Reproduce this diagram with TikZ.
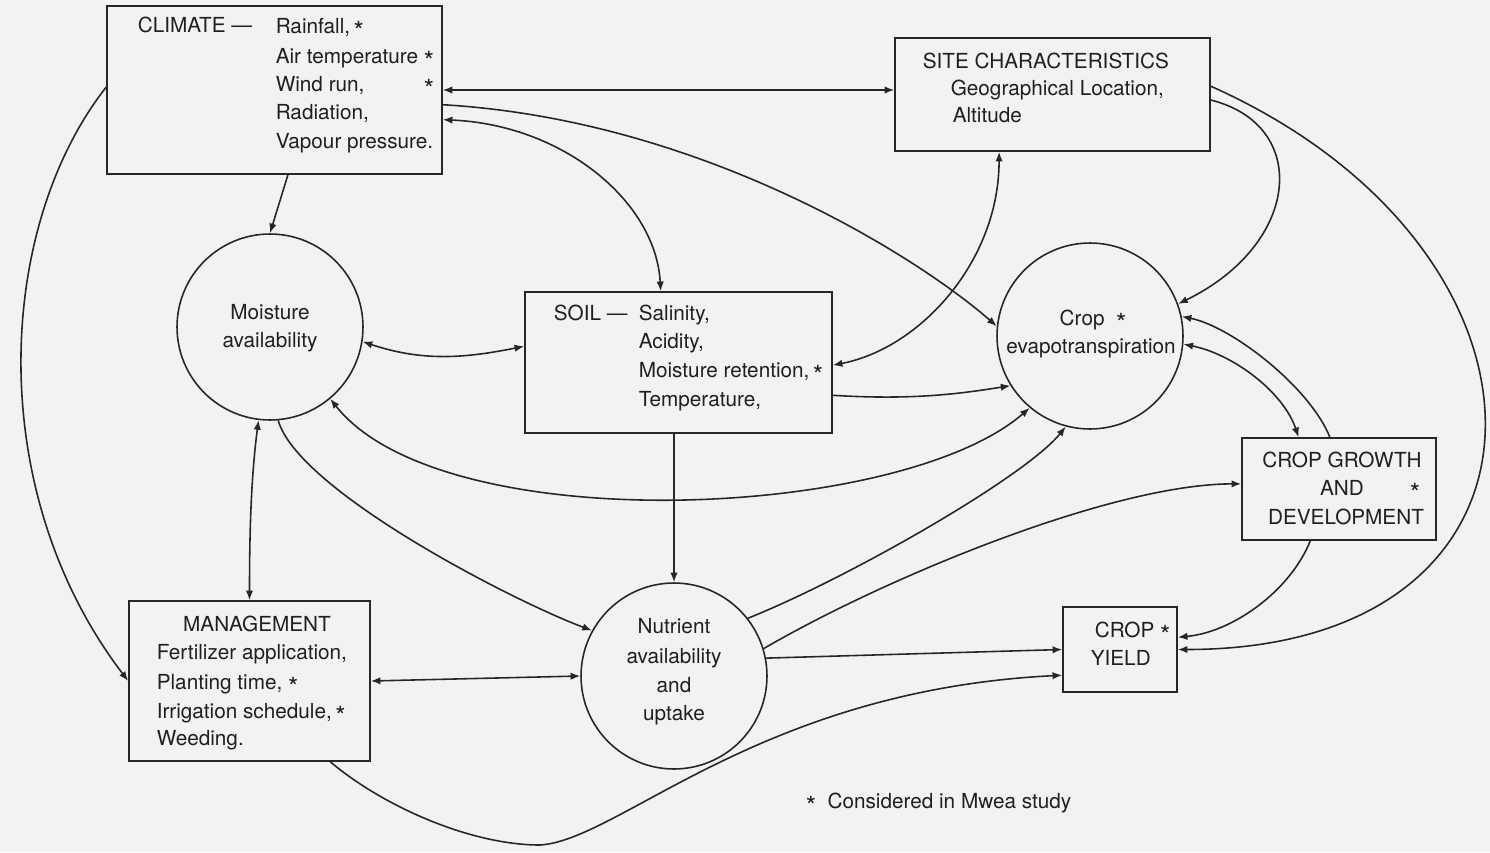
\documentclass[tikz,border=0pt]{standalone}
\usepackage{fontspec}
\setmainfont{TeX Gyre Heros}
\usetikzlibrary{arrows.meta}
\newcommand\mystar{{\fontsize{15}{15}\selectfont\raisebox{-0.55ex}{*}}}
\begin{document}
\begin{tikzpicture}[x=0.02cm,y=-0.02cm,
  line width=0.9pt, draw=black!85,
  >={Latex[length=5.5pt,width=4.2pt]},
  box/.style={draw=black!85, line width=0.9pt, rectangle, inner sep=0pt},
  circ/.style={draw=black!85, line width=0.9pt, circle, inner sep=0pt, minimum size=3.72cm},
  txt/.style={inner sep=0pt, anchor=base west, text=black!88, font=\fontsize{11.8}{14}\selectfont},
  ctxt/.style={inner sep=0pt, anchor=base, text=black!88, font=\fontsize{11.8}{14}\selectfont},
  conn/.style={draw=black!85, line width=0.9pt}]
\fill[black!5] (0,0) rectangle (1490,852);
\useasboundingbox (0,0) rectangle (1490,852);

% boxes and circles
\node[box, minimum width=6.70cm, minimum height=3.36cm] (clim) at (274.5,90) {};
\node[box, minimum width=6.30cm, minimum height=2.26cm] (site) at (1052.5,94.5) {};
\node[box, minimum width=6.14cm, minimum height=2.82cm] (soil) at (678.5,362.5) {};
\node[box, minimum width=4.82cm, minimum height=3.20cm] (mgmt) at (249.5,681) {};
\node[box, minimum width=3.88cm, minimum height=2.04cm] (cg) at (1339,489) {};
\node[box, minimum width=2.28cm, minimum height=1.70cm] (yield) at (1120,649.5) {};
\node[circ] (moist) at (270,327) {};
\node[circ] (et) at (1090,336) {};
\node[circ] (nut) at (674,676) {};

% texts: climate
\node[txt] (climT) at (137,32) {CLIMATE ---};
\node[txt] (climA) at (275,33) {Rainfall,\,\mystar};
\node[txt] (climB) at (275,63) {Air temperature \mystar};
\node[txt] (climC) at (275,91) {Wind run,};
\node[txt] (climCs) at (423,91) {\mystar};
\node[txt] (climD) at (275,119) {Radiation,};
\node[txt] (climE) at (275,148) {Vapour pressure.};
% site
\node[txt] (siteT) at (922,68) {SITE CHARACTERISTICS};
\node[txt] (siteA) at (950,95) {Geographical Location,};
\node[txt] (siteB) at (952,122) {Altitude};
% soil
\node[txt] (soilT) at (553,320) {SOIL ---};
\node[txt] (soilA) at (638,320) {Salinity,};
\node[txt] (soilB) at (638,348) {Acidity,};
\node[txt] (soilC) at (638,377) {Moisture retention,\,\mystar};
\node[txt] (soilD) at (638,406) {Temperature,};
% moisture
\node[ctxt] (moistA) at (270,319) {Moisture};
\node[ctxt] (moistB) at (270,347) {availability};
% ET
\node[ctxt] (etA) at (1093,325) {Crop \ \mystar};
\node[ctxt] (etB) at (1091,353) {evapotranspiration};
% nutrient
\node[ctxt] (nutA) at (674,633) {Nutrient};
\node[ctxt] (nutB) at (674,663) {availability};
\node[ctxt] (nutC) at (674,692) {and};
\node[ctxt] (nutD) at (674,720) {uptake};
% management
\node[ctxt] (mgmtT) at (257,631) {MANAGEMENT};
\node[txt] (mgmtA) at (156,659) {Fertilizer application,};
\node[txt] (mgmtB) at (156,689) {Planting time, \mystar};
\node[txt] (mgmtC) at (156,718) {Irrigation schedule,\,\mystar};
\node[txt] (mgmtD) at (156,745) {Weeding.};
% crop growth
\node[ctxt] (cgA) at (1342,467) {CROP GROWTH};
\node[ctxt] (cgB) at (1342,495) {AND};
\node[ctxt] (cgBs) at (1415,495) {\mystar};
\node[ctxt] (cgC) at (1346,524) {DEVELOPMENT};
% yield
\node[txt] (yA) at (1094,637) {CROP \mystar};
\node[txt] (yB) at (1090,665) {YIELD};
% footnote
\node[txt] (foot) at (805,808) {\mystar\ \ Considered in Mwea study};

% connectors
\draw[conn,<->] (clim.east) -- (clim.east -| site.west);
\draw[conn,->] (clim.-5) .. controls +(258,15) and +(-80,-70) .. (et.174);
\draw[conn,<->] (clim.-10.2) .. controls +(120,5) and +(-5,-90) .. (soil.104.7);
\draw[conn,->] (clim.-81.5) -- (moist.north);
\draw[conn,->] (clim.179.3) .. controls +(-110,140) and +(-145,-190) .. (mgmt.west);
\draw[conn,<->] (moist.-9.8) .. controls +(60,20) and +(-60,12) .. (soil.174.6);
\draw[conn,<->] (site.-133) .. controls +(0,109) and +(88,-17) .. (soil.-1.7);
\draw[conn,->] (site.-2) .. controls +(100,25) and +(123,-60) .. (et.20.3);
\draw[conn,->] (site.3.5) .. controls +(370,165) and +(403,0) .. (yield.east);
\draw[conn,->] (soil.-12.7) .. controls +(80,5) and +(-50,8) .. (et.212.5);
\draw[conn,<->] (moist.-50.8) .. controls +(111,141) and +(-130,113) .. (et.230);
\draw[conn,<->] (moist.-97.8) .. controls +(-8,60) and +(0,-60) .. (mgmt.north);
\draw[conn,->] (moist.-85.7) .. controls +(20,70) and +(-80,-30) .. (nut.151.3);
\draw[conn,->] (soil.south -| nut.north) -- (nut.north);
\draw[conn,<->] (mgmt.east) -- (nut.west);
\draw[conn,->] (nut.38.6) .. controls +(100,-40) and +(-40,50) .. (et.255);
\draw[conn,->] (nut.17.1) .. controls +(120,-70) and +(-130,0) .. (cg.177);
\draw[conn,->] (nut.11) -- (yield.west);
\coordinate (mbot) at (540,845);
\draw[conn,->] (mgmt.-45.5) .. controls +(52,44) and +(-70,0) .. (mbot)
   .. controls +(80,-5) and +(-303,15) .. (yield.204);
\draw[conn,->] (cg.100) .. controls +(-20,-50) and +(50,10) .. (et.12);
\draw[conn,<->] (et.-5.3) .. controls +(50,10) and +(-15,-45) .. (cg.128.8);
\draw[conn,->] (cg.-119.6) .. controls +(-20,50) and +(55,-5) .. (yield.12.4);
\end{tikzpicture}
\end{document}
